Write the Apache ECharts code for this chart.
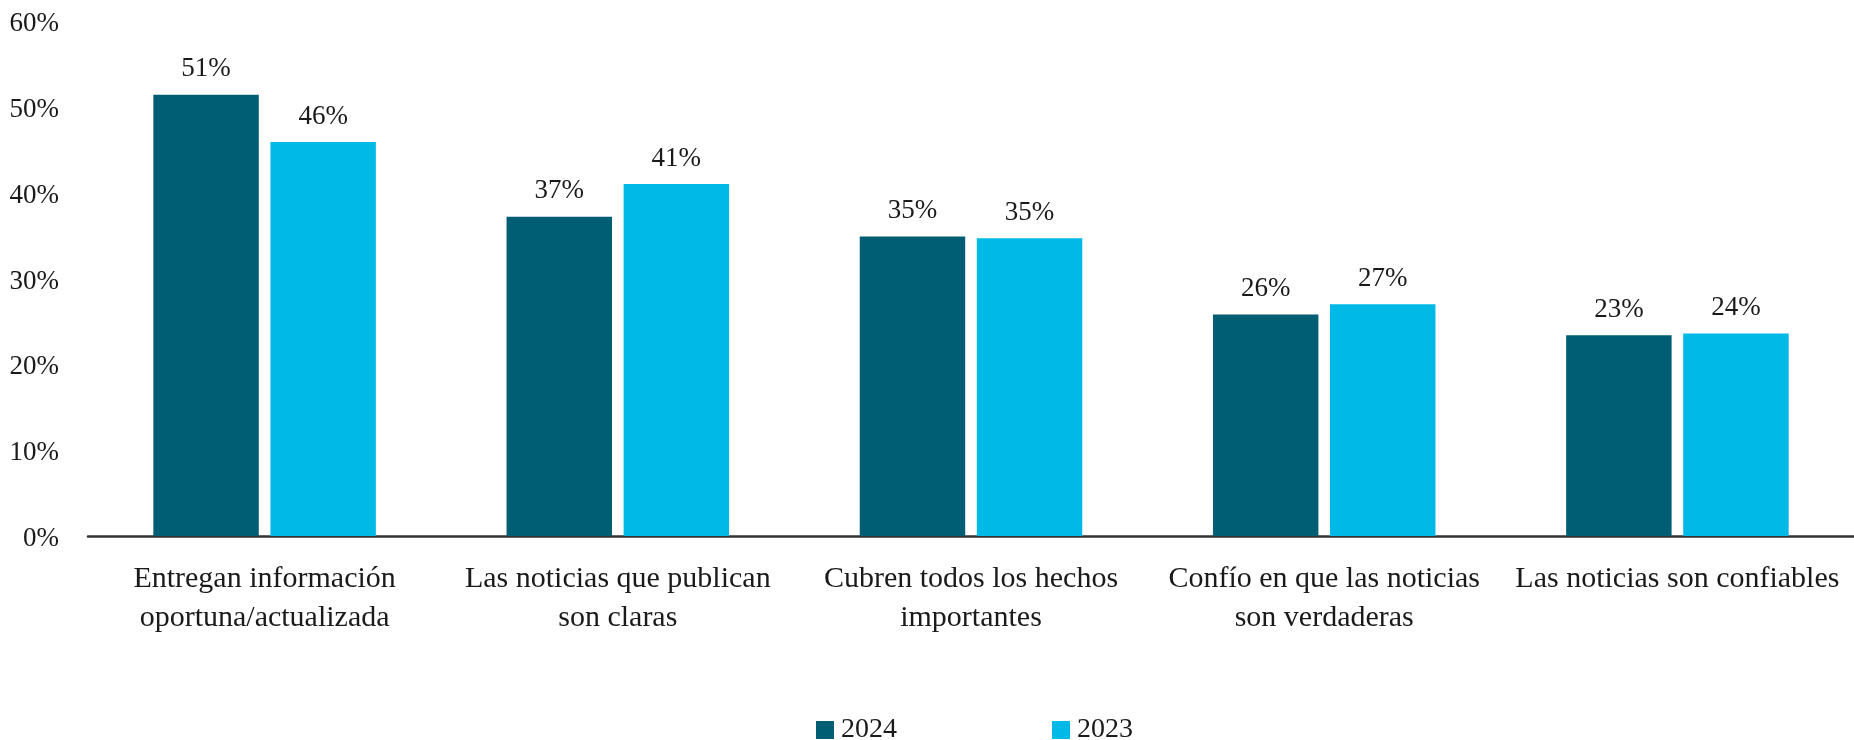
<!DOCTYPE html>
<html>
<head>
<meta charset="utf-8">
<script src="https://cdn.jsdelivr.net/npm/echarts@6/dist/echarts.min.js"></script>
<style>
html,body{margin:0;padding:0;background:#fff;}
#chart{width:1854px;height:740px;}
</style>
</head>
<body>
<div id="chart"></div>
<script>
var categories = [
  "Entregan información\noportuna/actualizada",
  "Las noticias que publican\nson claras",
  "Cubren todos los hechos\nimportantes",
  "Confío en que las noticias\nson verdaderas",
  "Las noticias son confiables"
];
var seriesNames = ["2024", "2023"];
var values2024 = [51.4, 37.2, 34.9, 25.8, 23.4];
var values2023 = [45.9, 41.0, 34.7, 27.0, 23.6];
var yTicks = [0, 10, 20, 30, 40, 50, 60];

var FONT = "'Liberation Serif', serif";
var TXT = "#1a1a1a";
var colors = ["#005E74", "#00B9E6"];

var chart = echarts.init(document.getElementById('chart'));
function labelCfg() {
  return {
    show: true, position: 'top', distance: 12,
    fontFamily: FONT, fontSize: 27, color: TXT,
    formatter: function (p) { return Math.round(p.value) + '%'; }
  };
}
chart.setOption({
  animation: false,
  color: colors,
  grid: { left: 88, right: -5, top: 21, bottom: 204, containLabel: false },
  legend: {
    data: seriesNames, top: 711, left: 811,
    itemWidth: 18, itemHeight: 18, itemGap: 155,
    icon: 'rect',
    textStyle: { fontFamily: FONT, fontSize: 28, color: TXT, padding: [0, 0, 0, 2] }
  },
  xAxis: {
    type: 'category', data: categories,
    axisLine: { lineStyle: { color: '#333', width: 2.5 } },
    axisTick: { show: false },
    axisLabel: { fontFamily: FONT, fontSize: 30, color: TXT, lineHeight: 39, margin: 24, interval: 0 }
  },
  yAxis: {
    type: 'value', min: yTicks[0], max: yTicks[yTicks.length - 1], interval: 10,
    axisLine: { show: false }, axisTick: { show: false },
    splitLine: { show: false },
    axisLabel: { color: TXT, margin: 29,
      formatter: function (v) { return '{a|' + v + '%}'; },
      rich: { a: { fontFamily: FONT, fontSize: 27, color: TXT, padding: [6, 0, 0, 0] } } }
  },
  series: [
    { name: seriesNames[0], type: 'bar', data: values2024, barGap: '11%', barCategoryGap: '37%', label: labelCfg() },
    { name: seriesNames[1], type: 'bar', data: values2023, barGap: '11%', barCategoryGap: '37%', label: labelCfg() }
  ]
});
</script>
</body>
</html>
